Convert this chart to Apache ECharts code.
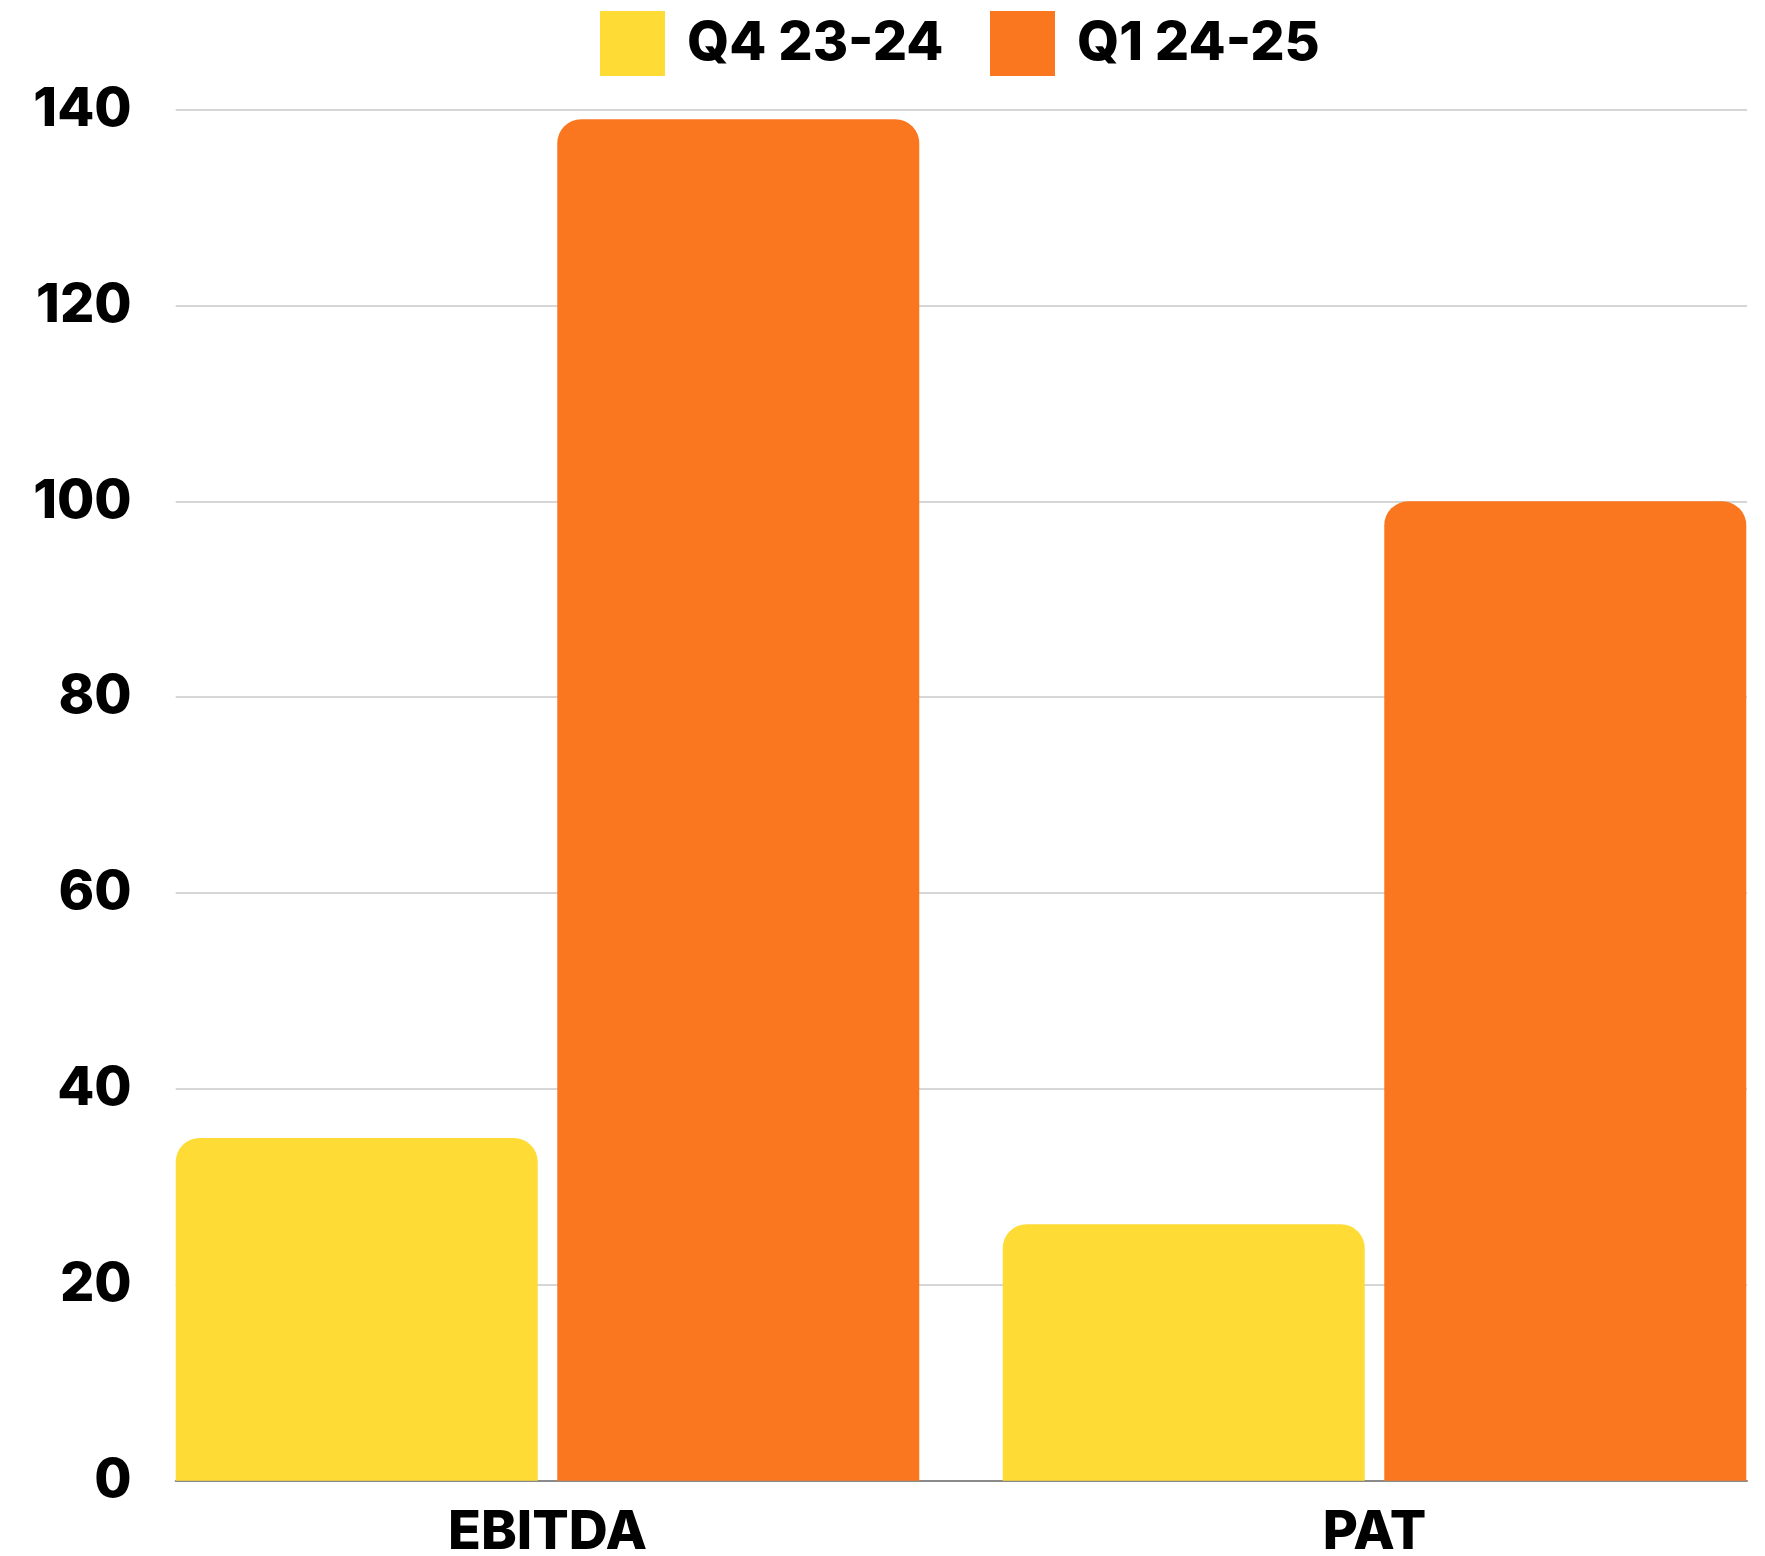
<!DOCTYPE html>
<html>
<head>
<meta charset="utf-8">
<script src="https://cdn.jsdelivr.net/npm/echarts@6/dist/echarts.min.js"></script>
<style>
html,body{margin:0;padding:0;background:#fff;}
#chart{width:1765px;height:1556px;}
</style>
</head>
<body>
<div id="chart"></div>
<script>
const categories = ['EBITDA', 'PAT'];
const seriesNames = ['Q4 23-24', 'Q1 24-25'];
const q4_2324 = [35, 26.2];
const q1_2425 = [139, 100];
const yTicks = { min: 0, max: 140, interval: 20 };

(function () {
const FONT = 'Inter, "Noto Sans", sans-serif';
const chart = echarts.init(document.getElementById('chart'), null, { renderer: 'canvas' });
const gTop = 109.5, gBottom = 75.2;
const legendText = { fontFamily: FONT, fontSize: 54, fontWeight: 800, color: '#000', padding: [0, 0, 0, 17] };
chart.setOption({
  backgroundColor: '#ffffff',
  animation: false,
  legend: [
    { data: [seriesNames[0]], left: 600, top: 11, padding: 0, itemWidth: 65, itemHeight: 65, icon: 'rect',
      itemStyle: { borderRadius: 2 }, textStyle: legendText },
    { data: [seriesNames[1]], left: 990, top: 11, padding: 0, itemWidth: 65, itemHeight: 65, icon: 'rect',
      itemStyle: { borderRadius: 2 }, textStyle: legendText }
  ],
  grid: [
    { left: 175.7, right: 18, top: gTop, bottom: gBottom, containLabel: false, outerBoundsMode: 'none' },
    { left: 134, right: -23, top: gTop, bottom: gBottom, containLabel: false, outerBoundsMode: 'none' }
  ],
  xAxis: [
    { type: 'category', gridIndex: 0, data: categories,
      axisLine: { show: true, lineStyle: { color: '#8a8a8a', width: 2 } },
      axisTick: { show: false }, axisLabel: { show: false }, splitLine: { show: false } },
    { type: 'category', gridIndex: 1, data: categories,
      axisLine: { show: false }, axisTick: { show: false },
      axisLabel: { show: true, margin: 25, fontFamily: FONT, fontSize: 54, fontWeight: 800, color: '#000' },
      splitLine: { show: false } }
  ],
  yAxis: [
    { type: 'value', gridIndex: 0, min: yTicks.min, max: yTicks.max, interval: yTicks.interval,
      axisLine: { show: false }, axisTick: { show: false },
      axisLabel: { margin: 44, fontFamily: FONT, fontSize: 54, fontWeight: 800, color: '#000' },
      splitLine: { show: true, lineStyle: { color: '#c8c8c8', width: 1.5 } } },
    { type: 'value', gridIndex: 1, min: yTicks.min, max: yTicks.max, interval: yTicks.interval,
      show: false, splitLine: { show: false } }
  ],
  series: [
    { name: seriesNames[0], type: 'bar', xAxisIndex: 1, yAxisIndex: 1, data: q4_2324,
      barWidth: 362, barGap: '5.4%', z: 3,
      itemStyle: { color: '#FEDC35', borderRadius: [24, 24, 0, 0] } },
    { name: seriesNames[1], type: 'bar', xAxisIndex: 1, yAxisIndex: 1, data: q1_2425,
      barWidth: 362, barGap: '5.4%', z: 3,
      itemStyle: { color: '#FA7720', borderRadius: [24, 24, 0, 0] } }
  ]
});
})();
</script>
</body>
</html>
